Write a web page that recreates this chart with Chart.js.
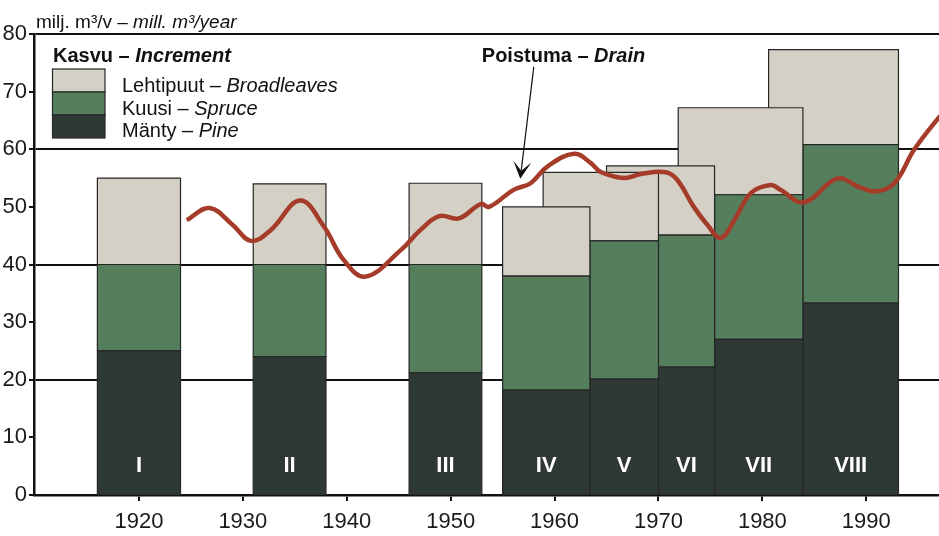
<!DOCTYPE html>
<html>
<head>
<meta charset="utf-8">
<script src="https://cdn.jsdelivr.net/npm/chart.js@4.4.1/dist/chart.umd.min.js"></script>
<style>
  html, body { margin: 0; padding: 0; background: #fff; }
</style>
</head>
<body>
<canvas id="growthChart" width="939" height="536"></canvas>
<script>
// inventory periods (years) and increment by species, mill. m3/year
const periods = ['I', 'II', 'III', 'IV', 'V', 'VI', 'VII', 'VIII'];
const periodStart = [1916, 1931, 1946, 1955, 1963.4, 1970, 1975.4, 1983.9];
const periodEnd = [1924, 1938, 1953, 1963.4, 1970, 1975.4, 1983.9, 1993.1];
const broadleafStart = [1916, 1931, 1946, 1955, 1958.9, 1965, 1971.9, 1980.6];
const pine = [25, 24, 21.2, 18.2, 20.1, 22.2, 27, 33.3];
const spruce = [15, 16, 18.8, 19.8, 24, 22.9, 25.1, 27.5];
const broadleaves = [15, 14, 14.1, 12, 11.9, 12, 15.1, 16.5];

// drain (poistuma), mill. m3/year
const drainYears = [1924.6, 1926.8, 1929, 1930.8, 1932.7, 1935.5, 1937.8, 1939.7, 1941.8, 1945.2,
  1947.1, 1948.9, 1950.8, 1952.9, 1953.7, 1956.1, 1957.7, 1959.3, 1961.9, 1963.5,
  1964.4, 1966.7, 1968.3, 1970.7, 1971.8, 1973.4, 1974.7, 1976, 1977.3, 1978.9,
  1980.8, 1981.7, 1984, 1987.2, 1989.4, 1991, 1992.7, 1994.6, 1996.8, 1998];
const drain = [47.7, 49.8, 46.9, 44.1, 46.0, 51.1, 46.6, 40.8, 37.9, 42.5,
  46.0, 48.4, 48.0, 50.5, 50.0, 53.0, 54.1, 57.0, 59.2, 57.6,
  56.1, 55.0, 55.7, 56.0, 54.7, 50.0, 46.9, 44.6, 47.7, 52.4,
  53.8, 53.0, 50.8, 54.9, 53.4, 52.7, 54.1, 59.9, 65.1, 67.5];

const xTicks = [1920, 1930, 1940, 1950, 1960, 1970, 1980, 1990];
const yTicks = [0, 10, 20, 30, 40, 50, 60, 70, 80];

const unitText = ['milj. m³/v – ', 'mill. m³/year'];
const legendTitle = ['Kasvu – ', 'Increment'];
const seriesNames = [['Lehtipuut – ', 'Broadleaves'], ['Kuusi – ', 'Spruce'], ['Mänty – ', 'Pine']];
const drainLabel = ['Poistuma – ', 'Drain'];

const colors = { broadleaves: '#d4d0c5', spruce: '#557f5c', pine: '#2e3935', drain: '#a53c2a', edge: '#262626' };
const FONT = "'Liberation Sans', Arial, sans-serif";

function box(x0, x1, lo, hi, color, rank) {
    return {
        type: 'line',
        data: [{x: x0, y: lo}, {x: x0, y: hi}, {x: x1, y: hi}, {x: x1, y: lo}, {x: x0, y: lo}],
        backgroundColor: color,
        borderColor: colors.edge,
        borderWidth: 1.2,
        fill: 'shape',
        stepped: true,
        pointRadius: 0,
        order: 1 + rank
    };
}

const datasets = [{
    type: 'line',
    data: drainYears.map((yr, i) => ({x: yr, y: drain[i]})),
    borderColor: colors.drain,
    borderWidth: 4.5,
    tension: 0.4,
    pointRadius: 0,
    fill: false,
    borderCapStyle: 'butt',
    order: 0
}];

periods.forEach((p, i) => {
    const top1 = pine[i];
    const top2 = top1 + spruce[i];
    const top3 = top2 + broadleaves[i];
    datasets.push(box(periodStart[i], periodEnd[i], 0, top1, colors.pine, i));
    datasets.push(box(periodStart[i], periodEnd[i], top1, top2, colors.spruce, i));
    datasets.push(box(broadleafStart[i], periodEnd[i], top2, top3, colors.broadleaves, i));
});

function drawRich(ctx, parts, x, y, weight, size) {
    let cx = x;
    parts.forEach((t, k) => {
        ctx.font = (k === 1 ? 'italic ' : '') + weight + ' ' + size + 'px ' + FONT;
        ctx.fillText(t, cx, y);
        cx += ctx.measureText(t).width;
    });
}

function richWidth(ctx, parts, weight, size) {
    let w = 0;
    parts.forEach((t, k) => {
        ctx.font = (k === 1 ? 'italic ' : '') + weight + ' ' + size + 'px ' + FONT;
        w += ctx.measureText(t).width;
    });
    return w;
}

const annotations = {
    id: 'annotations',
    afterDraw(chart) {
        const {ctx, chartArea} = chart;
        const xs = chart.scales.x, ys = chart.scales.y;
        ctx.save();
        ctx.textBaseline = 'alphabetic';
        ctx.textAlign = 'left';
        ctx.fillStyle = '#111';

        // unit label
        drawRich(ctx, unitText, 36, 28, 'normal', 19);

        // legend
        drawRich(ctx, legendTitle, 53, 62, 'bold', 20);
        const swatch = [colors.broadleaves, colors.spruce, colors.pine];
        swatch.forEach((c, k) => {
            ctx.fillStyle = c;
            ctx.fillRect(52.5, 69 + k * 23, 52.5, 23);
            ctx.strokeStyle = colors.edge;
            ctx.lineWidth = 1.2;
            ctx.strokeRect(52.5, 69 + k * 23, 52.5, 23);
            ctx.fillStyle = '#111';
            drawRich(ctx, seriesNames[k], 122, 92 + k * 22.5, 'normal', 20);
        });

        // period numerals
        ctx.fillStyle = '#fff';
        ctx.textAlign = 'center';
        ctx.font = 'bold 22px ' + FONT;
        periods.forEach((p, i) => {
            const cx = (xs.getPixelForValue(periodStart[i]) + xs.getPixelForValue(periodEnd[i])) / 2;
            ctx.fillText(p, cx, chartArea.bottom - 23.5);
        });

        // drain label and arrow
        ctx.textAlign = 'left';
        ctx.fillStyle = '#111';
        const lw = richWidth(ctx, drainLabel, 'bold', 20);
        const lx = xs.getPixelForValue(1960.86);
        const ly = ys.getPixelForValue(75.2);
        drawRich(ctx, drainLabel, lx - lw / 2, ly, 'bold', 20);

        const ax0 = xs.getPixelForValue(1958.0), ay0 = ys.getPixelForValue(74.3);
        const ax1 = xs.getPixelForValue(1956.7), ay1 = ys.getPixelForValue(54.9);
        const len = Math.hypot(ax1 - ax0, ay1 - ay0);
        const ux = (ax1 - ax0) / len, uy = (ay1 - ay0) / len;
        ctx.strokeStyle = '#111';
        ctx.lineWidth = 1.2;
        ctx.beginPath();
        ctx.moveTo(ax0, ay0);
        ctx.lineTo(ax1 - ux * 8, ay1 - uy * 8);
        ctx.stroke();
        const back = 17, half = 9, notch = 8;
        ctx.beginPath();
        ctx.moveTo(ax1, ay1);
        ctx.lineTo(ax1 - ux * back - uy * half, ay1 - uy * back + ux * half);
        ctx.lineTo(ax1 - ux * notch, ay1 - uy * notch);
        ctx.lineTo(ax1 - ux * back + uy * half, ay1 - uy * back - ux * half);
        ctx.closePath();
        ctx.fill();
        ctx.restore();
    }
};

new Chart(document.getElementById('growthChart'), {
    type: 'line',
    data: { datasets: datasets },
    options: {
        responsive: false,
        animation: false,
        layout: { padding: { top: 34, left: 0, right: 0, bottom: 0 } },
        plugins: {
            legend: { display: false },
            tooltip: { enabled: false }
        },
        scales: {
            x: {
                type: 'linear',
                min: 1909.9,
                max: 1997.0,
                afterBuildTicks: s => { s.ticks = xTicks.map(v => ({ value: v })); },
                afterFit: s => { s.height = 41; },
                grid: { drawOnChartArea: false, drawTicks: true, tickLength: 6, color: '#111', lineWidth: 2 },
                border: { color: '#111', width: 2.5 },
                ticks: {
                    font: { family: FONT, size: 22 },
                    color: '#1a1a1a',
                    padding: 8,
                    maxRotation: 0,
                    autoSkip: false,
                    callback: v => String(v)
                }
            },
            y: {
                min: 0,
                max: 80,
                afterBuildTicks: s => { s.ticks = yTicks.map(v => ({ value: v })); },
                afterFit: s => { s.width = 34; },
                grid: {
                    color: c => (c.tick && c.tick.value % 20 === 0) ? '#111' : 'rgba(0,0,0,0)',
                    tickColor: '#111',
                    lineWidth: 2,
                    drawTicks: true,
                    tickLength: 5
                },
                border: { color: '#111', width: 2.5 },
                ticks: {
                    font: { family: FONT, size: 22 },
                    color: '#1a1a1a',
                    padding: 2,
                    callback: v => String(v)
                }
            }
        }
    },
    plugins: [annotations]
});
</script>
</body>
</html>
